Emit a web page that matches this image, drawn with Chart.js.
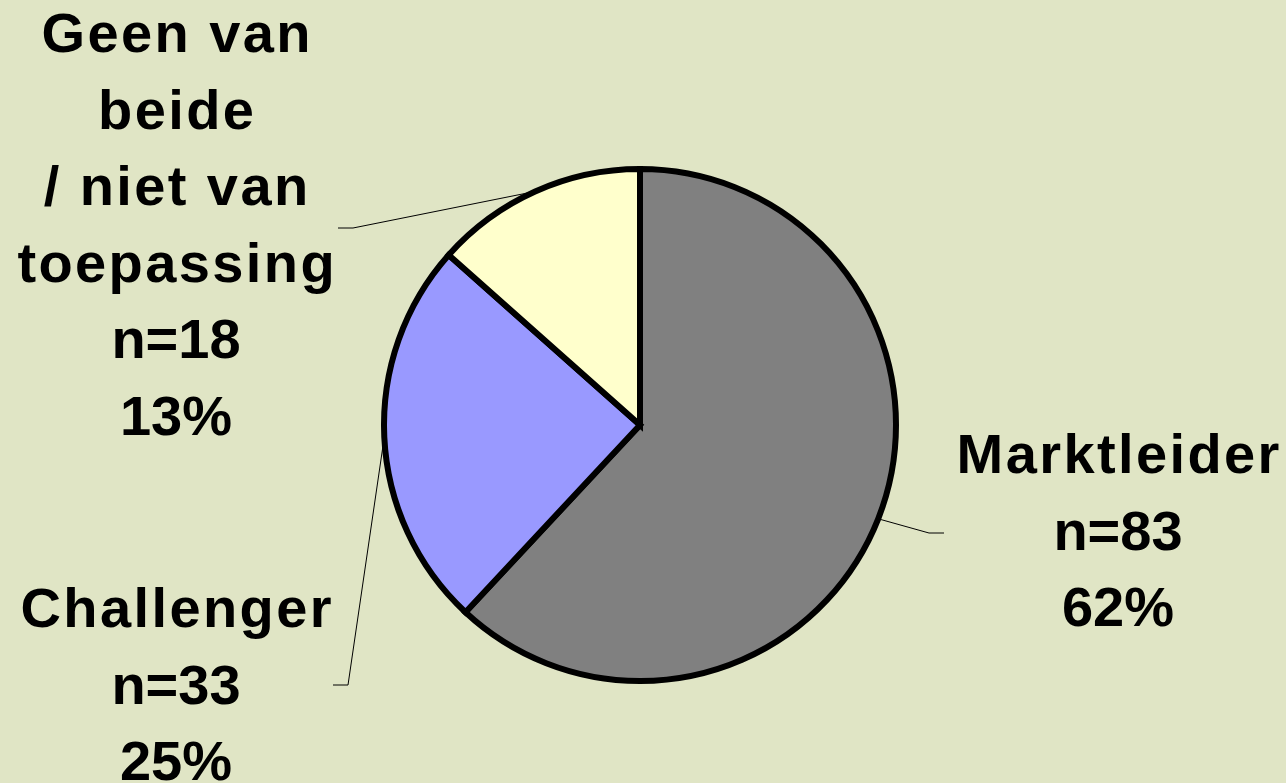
<!DOCTYPE html>
<html>
<head>
<meta charset="utf-8">
<script src="https://cdn.jsdelivr.net/npm/chart.js@4.4.1/dist/chart.umd.min.js"></script>
<style>
  html, body { margin: 0; padding: 0; background: #e0e5c5; }
  #wrap { width: 1286px; height: 783px; position: relative; }
</style>
</head>
<body>
<div id="wrap"><canvas id="pieChart" width="1286" height="783"></canvas></div>
<script>
// categories and counts (n)
const categories = ['Marktleider', 'Challenger', 'Geen van beide / niet van toepassing'];
const counts = [83, 33, 18];
const sliceColors = ['#808080', '#9999ff', '#ffffcc'];

// how each category label is wrapped in the picture
const labelLines = [
    ['Marktleider'],
    ['Challenger'],
    ['Geen van', 'beide', '/ niet van', 'toepassing']
];

const total = counts.reduce((a, b) => a + b, 0);

// label placement: text block center x, first baseline y, leader elbow and end
const labelLayout = [
    { x: 1118, y: 473, elbow: [929, 533], end: [944, 533] },
    { x: 176, y: 627, elbow: [348, 685], end: [333, 685] },
    { x: 176, y: 52, elbow: [353, 228], end: [338, 228] }
];
const lineHeight = 76.5;

const calloutPlugin = {
    id: 'callouts',
    afterDatasetsDraw(chart) {
        const ctx = chart.ctx;
        const meta = chart.getDatasetMeta(0);
        ctx.save();
        meta.data.forEach((arc, i) => {
            const p = arc.getProps(['x', 'y', 'startAngle', 'endAngle', 'outerRadius'], true);
            const mid = (p.startAngle + p.endAngle) / 2;
            const sx = p.x + Math.cos(mid) * p.outerRadius;
            const sy = p.y + Math.sin(mid) * p.outerRadius;
            const lay = labelLayout[i];

            // leader line
            ctx.beginPath();
            ctx.strokeStyle = '#000';
            ctx.lineWidth = 1;
            ctx.moveTo(sx, sy);
            ctx.lineTo(lay.elbow[0], lay.elbow[1]);
            ctx.lineTo(lay.end[0], lay.end[1]);
            ctx.stroke();

            // text: words are letter-spaced, numbers are not
            const words = labelLines[i];
            const nums = ['n=' + counts[i], Math.round(counts[i] / total * 100) + '%'];
            ctx.fillStyle = '#000';
            ctx.font = 'bold 56px "Liberation Sans", Arial, sans-serif';
            ctx.textAlign = 'center';
            ctx.textBaseline = 'alphabetic';
            ctx.letterSpacing = '2.4px';
            words.forEach((t, k) => {
                ctx.fillText(t, lay.x + 1.2, lay.y + k * lineHeight);
            });
            ctx.letterSpacing = '0px';
            nums.forEach((t, k) => {
                ctx.fillText(t, lay.x, lay.y + (words.length + k) * lineHeight);
            });
        });
        ctx.restore();
    }
};

new Chart(document.getElementById('pieChart'), {
    type: 'pie',
    data: {
        labels: categories,
        datasets: [{
            data: counts,
            backgroundColor: sliceColors,
            borderColor: '#000',
            borderWidth: 6,
            borderJoinStyle: 'miter'
        }]
    },
    options: {
        responsive: false,
        animation: false,
        radius: 256,
        layout: { padding: { left: 0, right: 6, top: 67, bottom: 0 } },
        plugins: {
            legend: { display: false },
            tooltip: { enabled: false }
        }
    },
    plugins: [calloutPlugin]
});
</script>
</body>
</html>
